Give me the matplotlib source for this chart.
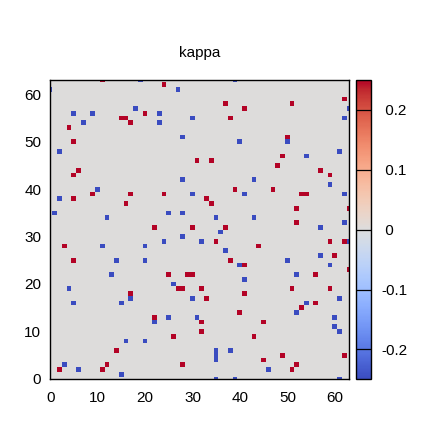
import numpy as np
import matplotlib
matplotlib.use("Agg")
import matplotlib.pyplot as plt

plt.rcParams['font.family'] = ['Liberation Sans', 'DejaVu Sans']

title = "kappa"
n = 64
vmin, vmax = -0.25, 0.25
pos_value = 0.25
neg_value = -0.25

red_cells = [
    (11, 63), (20, 56), (15, 55), (16, 55), (17, 54), (4, 53), (5, 50), (6, 44), (5, 43),
    (24, 62), (37, 58), (41, 57), (38, 55), (31, 46), (34, 46),
    (62, 59), (51, 58), (50, 51), (49, 47), (48, 45), (57, 44), (59, 43),
    (9, 39), (17, 39), (5, 38), (16, 37), (3, 28), (5, 25),
    (39, 40), (24, 39), (33, 38), (34, 37), (22, 32), (30, 32), (37, 32), (35, 29), (38, 25),
    (41, 24), (25, 22), (29, 22), (30, 22),
    (47, 40), (53, 39), (54, 39), (52, 36), (63, 36), (52, 33), (59, 29), (62, 29), (44, 28),
    (60, 26), (63, 23), (56, 22),
    (17, 18), (14, 6), (12, 3), (2, 2), (11, 2),
    (27, 19), (28, 19), (32, 19), (41, 18), (33, 17), (40, 14), (22, 13), (32, 12), (32, 10),
    (26, 9), (28, 3),
    (51, 19), (59, 19), (56, 16), (53, 15), (45, 12), (43, 9), (49, 5), (62, 5), (45, 4),
    (52, 3), (51, 2),
]

blue_cells = [
    (19, 63), (0, 61), (18, 57), (5, 56), (9, 56), (7, 54), (2, 48),
    (27, 61), (39, 63), (23, 56), (30, 55), (23, 54), (28, 51), (40, 50), (28, 42),
    (63, 57), (62, 55), (50, 50), (61, 48), (54, 47), (43, 42),
    (10, 40), (2, 38), (1, 35), (12, 34), (11, 28), (20, 28), (14, 25), (20, 25), (13, 22),
    (41, 39), (30, 39), (25, 35), (28, 35), (35, 34), (36, 31), (28, 30), (24, 29), (32, 29),
    (37, 27), (40, 24), (41, 21),
    (59, 41), (62, 39), (43, 34), (62, 33), (57, 32), (63, 29), (57, 26), (50, 25), (59, 24),
    (52, 22),
    (4, 19), (17, 17), (5, 16), (15, 16), (16, 8), (20, 8), (3, 3), (6, 2), (15, 1),
    (26, 20), (30, 17), (22, 12), (25, 13), (31, 13), (35, 4), (35, 5), (35, 6), (38, 6),
    (35, 0), (39, 0),
    (61, 17), (54, 16), (52, 14), (60, 13), (60, 11), (61, 10), (46, 2), (61, 0),
]

xticks = [0, 10, 20, 30, 40, 50, 60]
yticks = [0, 10, 20, 30, 40, 50, 60]
cticks = [-0.2, -0.1, 0, 0.1, 0.2]
ctick_labels = ["-0.2", "-0.1", " 0", " 0.1", " 0.2"]

Z = np.zeros((n, n))
for c, r in red_cells:
    Z[r, c] = pos_value
for c, r in blue_cells:
    Z[r, c] = neg_value

W = H = 440
fig = plt.figure(figsize=(W / 100, H / 100), dpi=100)
left, right, top, bottom = 50.3, 349.0, 80.3, 378.7
ax = fig.add_axes([left / W, 1 - bottom / H, (right - left) / W, (bottom - top) / H])
im = ax.imshow(Z, cmap='coolwarm', vmin=vmin, vmax=vmax, origin='lower',
               interpolation='nearest', aspect='auto')
ax.set_xlim(0, n - 1)
ax.set_ylim(0, n - 1)
ax.set_xticks(xticks)
ax.set_yticks(yticks)
ax.tick_params(axis='both', length=0, labelsize=11, colors='black')
ax.tick_params(axis='x', pad=9)
ax.tick_params(axis='y', pad=6.5)
for s in ax.spines.values():
    s.set_linewidth(1.0)

fig.text((left + right) / 2 / W, 1 - 53 / H, title, ha='center', va='center', fontsize=11)

cax = fig.add_axes([356.3 / W, 1 - 379.3 / H, 15 / W, (379.3 - 80) / H])
cb = fig.colorbar(im, cax=cax, ticks=cticks)
cb.ax.set_yticklabels(ctick_labels)
cb.ax.tick_params(length=0, labelsize=11, pad=7)
cb.outline.set_linewidth(1.0)
for t in cticks:
    cb.ax.axhline(t, color='black', lw=0.9)

fig.savefig("out.png", dpi=100)
